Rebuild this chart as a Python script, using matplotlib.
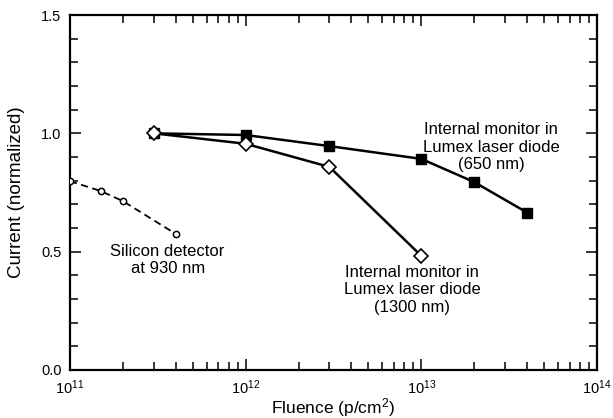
import matplotlib
matplotlib.use("Agg")
import matplotlib.pyplot as plt
from matplotlib.ticker import LogLocator, MultipleLocator, FixedLocator, FixedFormatter

plt.rcParams['font.family'] = ['Liberation Sans', 'DejaVu Sans']
plt.rcParams['mathtext.default'] = 'regular'

# Lumex laser diode internal monitor, 650 nm
fluence_650 = [3e11, 1e12, 3e12, 1e13, 2e13, 4e13]
current_650 = [1.0, 0.993, 0.946, 0.892, 0.794, 0.665]

# Lumex laser diode internal monitor, 1300 nm
fluence_1300 = [3e11, 1e12, 3e12, 1e13]
current_1300 = [1.0, 0.956, 0.858, 0.482]

# Silicon detector at 930 nm
fluence_si = [1e11, 1.5e11, 2e11, 4e11]
current_si = [0.798, 0.756, 0.714, 0.575]

x_ticks = [1e11, 1e12, 1e13, 1e14]
x_ticklabels = ['10$^{11}$', '10$^{12}$', '10$^{13}$', '10$^{14}$']
y_ticks = [0.0, 0.5, 1.0, 1.5]
y_ticklabels = ['0.0', '0.5', '1.0', '1.5']

fig = plt.figure(figsize=(6.13, 4.18), dpi=100)
ax = fig.add_axes([0.114, 0.115, 0.860, 0.849])

ax.plot(fluence_si, current_si, color='black', lw=1.3, ls=(0, (4, 2.5)),
        marker='o', ms=4.5, mfc='white', mec='black', mew=1.1, zorder=3)
ax.plot(fluence_650, current_650, color='black', lw=1.8,
        marker='s', ms=6.5, mfc='black', mec='black', zorder=3)
ax.plot(fluence_1300, current_1300, color='black', lw=1.8,
        marker='D', ms=7, mfc='white', mec='black', mew=1.2, zorder=4)

ax.set_xscale('log')
ax.set_xlim(1e11, 1e14)
ax.set_ylim(0, 1.5)

ax.xaxis.set_major_locator(FixedLocator(x_ticks))
ax.xaxis.set_major_formatter(FixedFormatter(x_ticklabels))
ax.xaxis.set_minor_locator(LogLocator(base=10, subs=range(2, 10)))
ax.xaxis.set_minor_formatter(plt.NullFormatter())
ax.yaxis.set_major_locator(FixedLocator(y_ticks))
ax.yaxis.set_major_formatter(FixedFormatter(y_ticklabels))
ax.yaxis.set_minor_locator(MultipleLocator(0.1))

ax.tick_params(which='both', direction='in', top=True, right=True,
               width=1.1, labelsize=10.5, colors='black')
ax.tick_params(which='major', length=8, pad=6)
ax.tick_params(which='minor', length=6)

for s in ax.spines.values():
    s.set_linewidth(1.6)

ax.set_xlabel('Fluence (p/cm$^2$)', fontsize=12.5)
ax.xaxis.set_label_coords(0.5, -0.075)
ax.set_ylabel('Current (normalized)', fontsize=13.5)
ax.yaxis.set_label_coords(-0.085, 0.5)

note_kw = dict(ha='center', va='center', fontsize=12, linespacing=1.2)
ax.text(2.5e13, 0.942, 'Internal monitor in\nLumex laser diode\n(650 nm)', **note_kw)
ax.text(8.85e12, 0.338, 'Internal monitor in\nLumex laser diode\n(1300 nm)', **note_kw)
ax.text(3.6e11, 0.465, 'Silicon detector\nat 930 nm', **note_kw)

fig.savefig('out.png', dpi=100)
